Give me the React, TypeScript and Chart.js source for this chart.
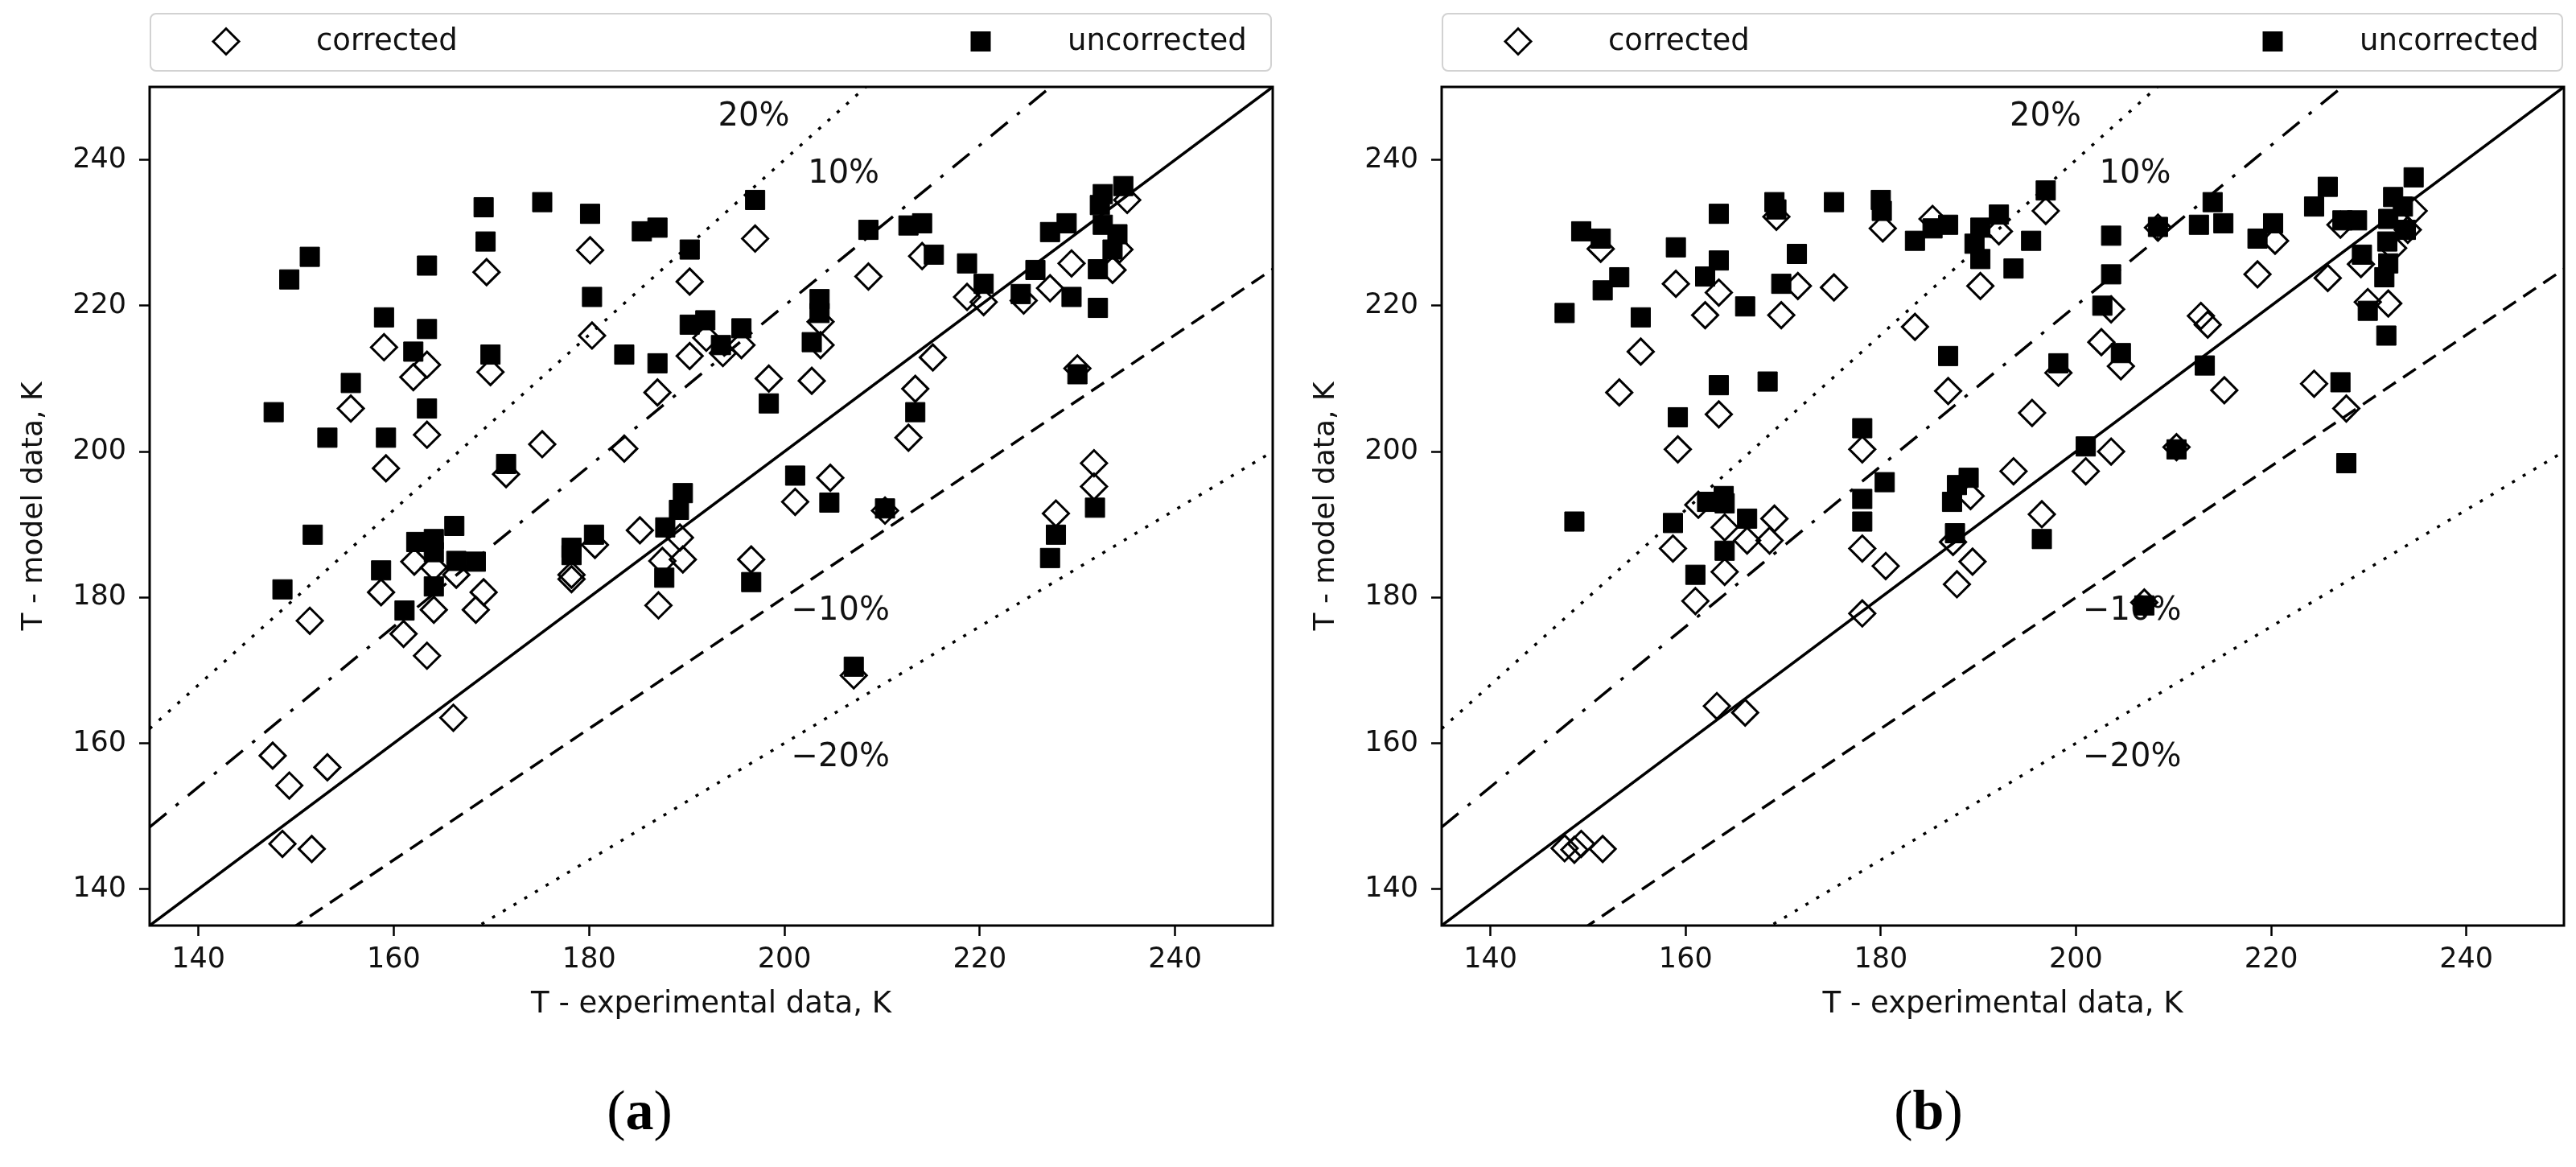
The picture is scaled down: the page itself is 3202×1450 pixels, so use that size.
import React, { useEffect, useRef } from "react";
import { Chart, registerables } from "chart.js";

Chart.register(...registerables);

type Pt = [number, number];

const FONT = "'DejaVu Sans', sans-serif";
const SERIF = "'Liberation Serif', 'DejaVu Serif', serif";

const AXIS_MIN = 135;
const AXIS_MAX = 250;
const TICK_VALUES = [140, 160, 180, 200, 220, 240];
const X_TITLE = "T - experimental data, K";
const Y_TITLE = "T - model data, K";
const LEGEND_LABELS = ["corrected", "uncorrected"];

const REF_FACTORS = [1.2, 1.1, 1.0, 0.9, 0.8];
const REF_DASHES = [[4, 11.5], [27, 15, 4.5, 15], [], [19, 11], [4, 11.5]];

const ANNOT_TEXT = ["20%", "10%", "\u221210%", "\u221220%"];
const ANNOT_X = [193.2, 202.4, 200.7, 200.7];
const ANNOT_Y = [245.9, 238.0, 178.1, 158.0];

const A_UNCORRECTED: Pt[] = [
  [169.2, 233.5], [175.2, 234.2], [180.1, 232.6], [185.4, 230.2], [187.0, 230.7], [190.3, 227.7],
  [169.4, 228.8], [151.4, 226.7], [149.3, 223.6], [163.4, 225.5], [180.3, 221.2], [159.0, 218.4],
  [163.4, 216.8], [162.0, 213.7], [169.9, 213.3], [183.6, 213.3], [187.0, 212.1], [190.3, 217.4],
  [191.9, 218.0], [155.6, 209.4], [147.7, 205.4], [153.2, 201.9], [159.2, 201.9], [163.4, 205.9],
  [171.5, 198.3], [189.6, 194.3], [189.2, 192.0],
  [197.0, 234.5], [208.6, 230.4], [212.7, 231.0], [214.1, 231.3], [215.3, 227.0], [218.7, 225.8],
  [220.4, 223.0], [227.2, 230.1], [228.9, 231.3], [232.6, 235.3], [234.7, 236.4], [232.3, 233.8],
  [232.6, 231.1], [234.1, 229.8], [233.6, 227.7], [232.1, 225.0], [225.7, 224.9], [224.2, 221.6],
  [229.4, 221.2], [232.1, 219.7], [203.6, 220.9], [203.6, 219.0], [202.8, 215.0], [195.6, 216.9],
  [193.5, 214.6], [198.4, 206.6], [213.4, 205.4], [230.0, 210.6], [201.1, 196.7], [204.6, 193.0],
  [210.3, 192.2], [231.8, 192.3],
  [151.7, 188.6], [148.6, 181.1], [158.7, 183.7], [162.3, 187.6], [164.1, 188.0], [166.2, 189.8],
  [164.1, 186.2], [166.4, 185.0], [168.4, 184.9], [164.1, 181.5], [161.1, 178.2], [178.2, 186.8],
  [178.2, 185.8], [180.5, 188.6], [187.8, 189.6], [187.7, 182.7],
  [196.6, 182.1], [227.8, 188.6], [227.2, 185.4], [207.1, 170.5],
];

const A_CORRECTED: Pt[] = [
  [180.1, 227.6], [169.5, 224.6], [190.3, 223.3], [159.0, 214.3], [180.3, 215.9], [163.4, 211.9],
  [162.0, 210.2], [169.9, 210.9], [190.3, 213.1], [155.6, 205.9], [187.0, 208.1], [163.4, 202.3],
  [175.2, 201.0], [183.6, 200.4], [159.2, 197.7], [171.5, 196.9], [192.0, 215.6],
  [197.0, 229.2], [208.6, 224.0], [214.1, 226.8], [235.1, 234.5], [234.3, 227.7], [233.6, 224.9],
  [229.4, 225.8], [218.7, 221.2], [220.4, 220.5], [224.5, 220.7], [227.2, 222.4], [203.7, 217.8],
  [203.7, 214.6], [195.6, 214.6], [193.7, 213.5], [198.4, 210.0], [202.8, 209.7], [215.2, 212.9],
  [213.4, 208.6], [212.7, 201.9], [230.0, 211.4], [231.7, 198.4], [231.7, 195.2], [201.1, 193.1],
  [204.7, 196.4], [227.8, 191.5],
  [151.4, 176.8], [158.7, 180.7], [162.1, 184.9], [164.1, 184.1], [166.4, 183.1], [164.1, 178.3],
  [161.0, 175.0], [163.4, 172.0], [169.2, 180.7], [168.4, 178.3], [178.2, 183.1], [178.2, 182.5],
  [180.6, 187.2], [185.2, 189.2], [187.1, 178.9], [187.5, 185.0], [189.3, 188.2], [189.6, 185.2],
  [166.1, 163.5], [147.6, 158.3], [153.2, 156.7], [149.3, 154.2], [148.6, 146.2], [151.6, 145.5],
  [210.3, 191.9], [196.6, 185.2], [207.1, 169.3],
];

const B_UNCORRECTED: Pt[] = [
  [149.3, 230.2], [151.3, 229.2], [163.4, 232.6], [169.1, 234.2], [169.3, 233.2], [175.2, 234.2],
  [180.0, 234.5], [180.1, 233.0], [183.5, 228.9], [185.3, 230.6], [186.9, 231.1], [190.2, 230.7],
  [192.1, 232.5], [189.6, 228.5], [190.2, 226.4], [159.0, 228.0], [163.4, 226.2], [162.0, 224.0],
  [153.2, 223.9], [151.5, 222.1], [147.6, 219.0], [155.4, 218.4], [166.1, 219.9], [171.4, 227.1],
  [169.8, 223.0], [186.9, 213.1], [163.4, 209.1], [168.4, 209.6], [159.2, 204.7], [178.1, 203.2],
  [180.4, 195.8], [178.1, 193.5], [189.0, 196.4], [187.8, 195.4], [187.3, 193.1], [163.9, 193.9],
  [162.2, 193.1],
  [196.9, 235.8], [195.4, 228.9], [193.6, 225.1], [203.6, 229.6], [203.6, 224.3], [202.7, 220.0],
  [204.6, 213.5], [198.2, 212.1], [208.4, 230.8], [212.6, 231.1], [214.0, 234.2], [215.1, 231.3],
  [218.6, 229.2], [220.2, 231.3], [213.2, 211.8], [225.8, 236.3], [224.4, 233.6], [227.3, 231.7],
  [228.8, 231.7], [229.3, 227.0], [234.6, 237.6], [232.5, 234.9], [233.5, 233.6], [232.0, 231.9],
  [233.8, 230.4], [231.9, 228.8], [232.0, 225.8], [231.6, 223.9], [229.9, 219.3], [231.8, 215.9],
  [227.1, 209.5], [201.0, 200.7], [210.3, 200.3], [227.7, 198.4],
  [148.6, 190.4], [158.7, 190.2], [164.0, 192.9], [166.3, 190.8], [164.0, 186.4], [161.0, 183.1],
  [178.1, 190.4], [187.6, 188.8],
  [196.5, 188.0], [207.0, 178.9],
];

const B_CORRECTED: Pt[] = [
  [151.3, 227.8], [169.3, 232.2], [180.2, 230.6], [185.3, 231.9], [192.1, 230.2], [159.0, 223.0],
  [163.4, 221.8], [162.0, 218.7], [169.8, 218.7], [171.5, 222.7], [175.2, 222.5], [190.2, 222.7],
  [183.5, 217.1], [155.4, 213.7], [153.2, 208.1], [163.4, 205.1], [159.2, 200.3], [178.1, 200.3],
  [186.9, 208.3], [189.2, 193.9],
  [196.9, 233.0], [203.6, 219.5], [202.6, 215.0], [204.6, 211.7], [198.2, 210.8], [195.5, 205.3],
  [193.6, 197.3], [208.4, 230.7], [218.6, 224.3], [220.4, 228.9], [212.8, 218.6], [213.5, 217.4],
  [225.8, 223.8], [229.2, 225.7], [227.1, 231.1], [234.0, 230.4], [232.5, 227.9], [232.0, 220.3],
  [229.9, 220.5], [234.6, 233.0], [215.2, 208.4], [224.4, 209.3], [227.7, 205.9], [203.6, 200.0],
  [201.0, 197.3], [210.3, 200.6],
  [158.7, 186.7], [164.0, 189.6], [164.0, 183.5], [166.3, 187.8], [169.1, 190.8], [168.6, 187.8],
  [161.0, 179.5], [178.1, 186.7], [180.5, 184.3], [178.1, 177.8], [187.4, 187.6], [189.4, 184.9],
  [187.8, 181.8], [163.2, 165.1], [166.1, 164.2], [147.6, 145.6], [148.6, 145.4], [149.3, 146.2],
  [151.5, 145.5], [161.3, 192.7],
  [196.5, 191.4], [207.0, 179.3],
];

const CANVAS_W = 1601;
const CANVAS_H = 1450;

function drawDiamond(ctx: CanvasRenderingContext2D, x: number, y: number, r: number) {
  ctx.beginPath();
  ctx.moveTo(x - r, y);
  ctx.lineTo(x, y - r);
  ctx.lineTo(x + r, y);
  ctx.lineTo(x, y + r);
  ctx.closePath();
  ctx.stroke();
}

function makeDecor(panelLetter: string, labelCenterX: number) {
  return {
    id: "decor_" + panelLetter,
    beforeDatasetsDraw(chart: any) {
      const { ctx, scales } = chart;
      const xs = scales.x;
      const ys = scales.y;
      ctx.save();
      ctx.fillStyle = "#111";
      ctx.font = `40px ${FONT}`;
      ctx.textAlign = "left";
      ctx.textBaseline = "middle";
      ANNOT_TEXT.forEach((t, i) => {
        ctx.fillText(t, xs.getPixelForValue(ANNOT_X[i]), ys.getPixelForValue(ANNOT_Y[i]));
      });
      ctx.restore();
    },
    afterDraw(chart: any) {
      const { ctx, chartArea: ca } = chart;
      ctx.save();
      ctx.strokeStyle = "#000";
      ctx.lineWidth = 3;
      ctx.setLineDash([]);
      ctx.strokeRect(ca.left, ca.top, ca.right - ca.left, ca.bottom - ca.top);

      const lx = ca.left + 1;
      const lw = ca.right - 2 - lx;
      const ly = 17;
      const lh = 71;
      ctx.fillStyle = "#fff";
      ctx.strokeStyle = "#d2d2d2";
      ctx.lineWidth = 2;
      ctx.beginPath();
      (ctx as any).roundRect(lx, ly, lw, lh, 7);
      ctx.fill();
      ctx.stroke();
      const midY = ly + lh / 2 - 1;
      ctx.strokeStyle = "#000";
      ctx.lineWidth = 3;
      drawDiamond(ctx, ca.left + 95, midY, 16);
      ctx.fillStyle = "#000";
      ctx.fillRect(ca.left + 1033 - 12.5, midY - 12.5, 25, 25);
      ctx.font = `37px ${FONT}`;
      ctx.textAlign = "left";
      ctx.textBaseline = "middle";
      ctx.fillStyle = "#111";
      ctx.fillText(LEGEND_LABELS[0], ca.left + 207, midY + 1);
      ctx.fillText(LEGEND_LABELS[1], ca.left + 1141, midY + 1);

      ctx.font = `37px ${FONT}`;
      ctx.textAlign = "center";
      ctx.textBaseline = "middle";
      ctx.fillText(X_TITLE, (ca.left + ca.right) / 2, 1248);
      ctx.save();
      ctx.translate(ca.left - 143, (ca.top + ca.bottom) / 2);
      ctx.rotate(-Math.PI / 2);
      ctx.font = `36px ${FONT}`;
      ctx.fillText(Y_TITLE, 0, 0);
      ctx.restore();

      ctx.fillStyle = "#000";
      ctx.textAlign = "left";
      ctx.textBaseline = "alphabetic";
      const normal = `70px ${SERIF}`;
      const bold = `bold 70px ${SERIF}`;
      ctx.font = normal;
      const wp = ctx.measureText("(").width;
      const wq = ctx.measureText(")").width;
      ctx.font = bold;
      const wl = ctx.measureText(panelLetter).width;
      let px = labelCenterX - (wp + wl + wq) / 2;
      const by = 1403;
      ctx.font = normal;
      ctx.fillText("(", px, by);
      px += wp;
      ctx.font = bold;
      ctx.fillText(panelLetter, px, by);
      px += wl;
      ctx.font = normal;
      ctx.fillText(")", px, by);
      ctx.restore();
    },
  };
}

type PanelProps = {
  letter: string;
  corrected: Pt[];
  uncorrected: Pt[];
  padLeft: number;
  padRight: number;
  left: number;
  labelX: number;
};

function Panel({ letter, corrected, uncorrected, padLeft, padRight, left, labelX }: PanelProps) {
  const ref = useRef<HTMLCanvasElement>(null);
  useEffect(() => {
    const canvas = ref.current;
    if (!canvas) return;
    const refDatasets = REF_FACTORS.map((f, i) => ({
      label: "ref" + i,
      data: [
        { x: AXIS_MIN, y: AXIS_MIN * f },
        { x: AXIS_MAX, y: AXIS_MAX * f },
      ],
      showLine: true,
      borderColor: "#000",
      borderWidth: 3.5,
      borderDash: REF_DASHES[i],
      borderCapStyle: "butt",
      pointRadius: 0,
      fill: false,
      order: 3,
    }));
    const tickFont = { size: 35, family: FONT };
    const chart = new Chart(canvas, {
      type: "scatter",
      data: {
        datasets: [
          {
            label: LEGEND_LABELS[1],
            data: uncorrected.map(([x, y]) => ({ x, y })),
            pointStyle: "rect",
            pointRadius: 17,
            backgroundColor: "#000",
            borderColor: "#000",
            borderWidth: 1,
            order: 0,
          },
          {
            label: LEGEND_LABELS[0],
            data: corrected.map(([x, y]) => ({ x, y })),
            pointStyle: "rectRot",
            pointRadius: 16,
            backgroundColor: "rgba(0,0,0,0)",
            borderColor: "#000",
            borderWidth: 3,
            order: 1,
          },
          ...refDatasets,
        ] as any,
      },
      options: {
        responsive: false,
        animation: false,
        devicePixelRatio: 1,
        events: [],
        layout: {
          padding: { left: padLeft, right: padRight, top: 108, bottom: 160 },
          autoPadding: false,
        } as any,
        plugins: {
          legend: { display: false },
          tooltip: { enabled: false },
          title: { display: false },
        },
        scales: {
          x: {
            type: "linear",
            min: AXIS_MIN,
            max: AXIS_MAX,
            afterBuildTicks: (s: any) => {
              s.ticks = TICK_VALUES.map((v) => ({ value: v }));
            },
            afterFit: (s: any) => {
              s.height = 140;
            },
            grid: {
              display: true,
              drawOnChartArea: false,
              drawTicks: true,
              tickLength: 13,
              tickWidth: 2.5,
              tickColor: "#000",
            },
            border: { display: false },
            ticks: {
              color: "#111",
              font: tickFont,
              padding: 9,
              maxRotation: 0,
              autoSkip: false,
            },
          },
          y: {
            type: "linear",
            min: AXIS_MIN,
            max: AXIS_MAX,
            afterBuildTicks: (s: any) => {
              s.ticks = TICK_VALUES.map((v) => ({ value: v }));
            },
            afterFit: (s: any) => {
              s.width = 120;
            },
            grid: {
              display: true,
              drawOnChartArea: false,
              drawTicks: true,
              tickLength: 13,
              tickWidth: 2.5,
              tickColor: "#000",
            },
            border: { display: false },
            ticks: {
              color: "#111",
              font: tickFont,
              padding: 16,
              autoSkip: false,
            },
          },
        },
      } as any,
      plugins: [makeDecor(letter, labelX)],
    });
    return () => chart.destroy();
  }, [letter, corrected, uncorrected, padLeft, padRight, labelX]);

  return (
    <canvas
      ref={ref}
      width={CANVAS_W}
      height={CANVAS_H}
      style={{ position: "absolute", left, top: 0, width: CANVAS_W, height: CANVAS_H, display: "block" }}
    />
  );
}

export default function App() {
  return (
    <div
      style={{
        position: "absolute",
        left: 0,
        top: 0,
        width: 3202,
        height: 1450,
        background: "#fff",
        overflow: "hidden",
      }}
    >
      <Panel letter="a" corrected={A_CORRECTED} uncorrected={A_UNCORRECTED} padLeft={66} padRight={19} left={0} labelX={795} />
      <Panel letter="b" corrected={B_CORRECTED} uncorrected={B_UNCORRECTED} padLeft={71} padRight={15} left={1601} labelX={796} />
    </div>
  );
}
